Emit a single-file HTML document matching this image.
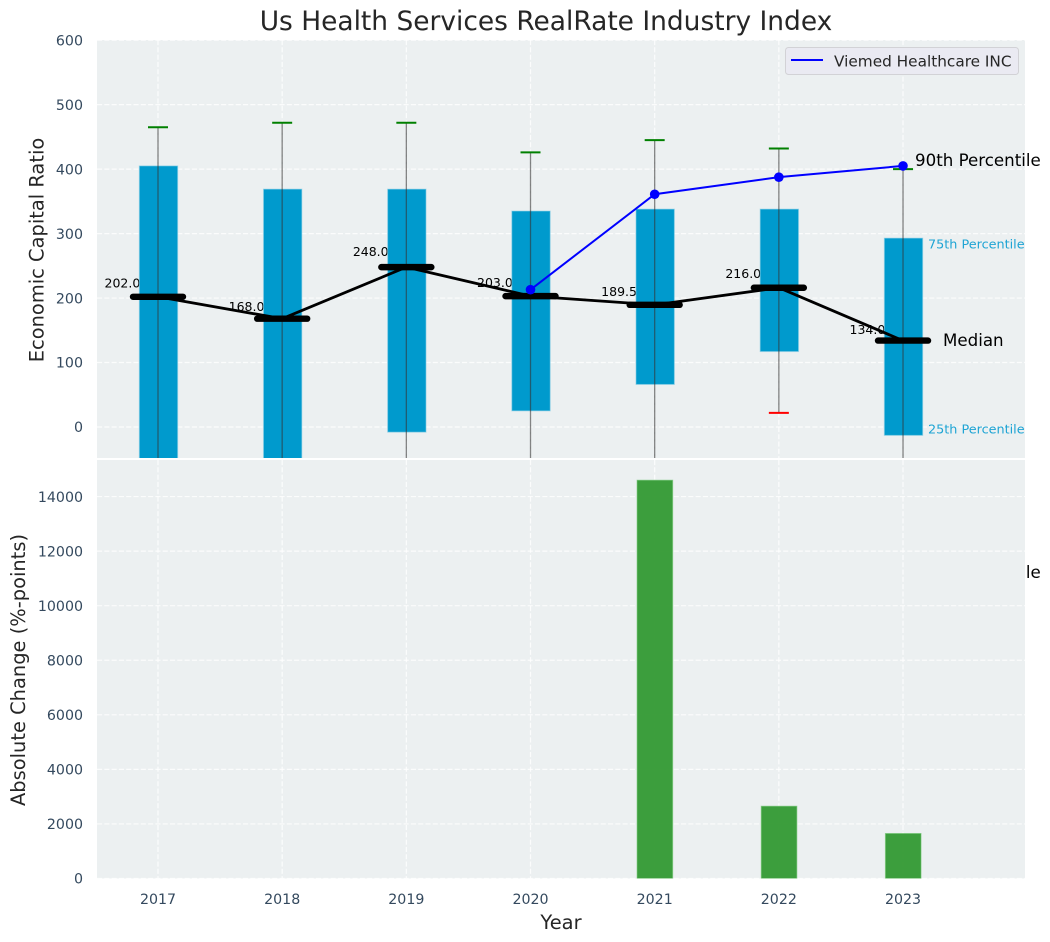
<!DOCTYPE html>
<html lang="en">
<head>
<meta charset="utf-8">
<title>Us Health Services RealRate Industry Index</title>
<style>
html,body{margin:0;padding:0;background:#fff;width:1050px;height:942px;overflow:hidden}
svg{display:block}
text{font-family:"DejaVu Sans","Liberation Sans",sans-serif}
</style>
</head>
<body>
<svg id="chart" xmlns="http://www.w3.org/2000/svg" width="1050" height="942" viewBox="0 0 1050 942">
<defs>
<clipPath id="clip-top"><rect x="97" y="40" width="928" height="418"></rect></clipPath>
<clipPath id="clip-bottom"><rect x="97" y="460" width="928" height="418.5"></rect></clipPath>
</defs>
</svg>
<script>
const years = [2017, 2018, 2019, 2020, 2021, 2022, 2023];
const q75 = [405, 369, 369, 335, 338, 338, 293];
const q25 = [-60, -60, -8, 25, 66, 117, -13];
const whiskerHigh = [465, 472, 472, 426, 445, 432, 400];
const whiskerLow = [-100, -100, -60, -60, -60, 22, -60];
const medians = [202, 168, 248, 203, 189.5, 216, 134];
const companyYears = [2020, 2021, 2022, 2023];
const companyValues = [213, 361, 387.5, 405];
const changeYears = [2021, 2022, 2023];
const changeValues = [14600, 2650, 1650];
const ratioTicks = [0, 100, 200, 300, 400, 500, 600];
const changeTicks = [0, 2000, 4000, 6000, 8000, 10000, 12000, 14000];

const NS = 'http://www.w3.org/2000/svg';
const svg = document.getElementById('chart');
const xScale = v => 158 + (v - 2017) * 124.17;
const yTop = v => 427 - v * 0.6447;
const yBottom = v => 878.5 - v * 0.02728;
const boxHalf = 19.2;
const gridDash = '5.1 2.2';

function mk(tag, attrs, parent, content) {
  const el = document.createElementNS(NS, tag);
  for (const k in attrs) el.setAttribute(k, attrs[k]);
  if (content !== undefined) el.textContent = content;
  (parent || svg).appendChild(el);
  return el;
}

// top panel
const topPanel = mk('g', {});


const topBg = mk('rect', {x: 97, y: 40, width: 928, height: 418, fill: '#ecf0f1'}, topPanel);


const topPlot = mk('g', {'clip-path': 'url(#clip-top)'}, topPanel);



ratioTicks.forEach(t => {
  const g = mk('line', {x1: 97, x2: 1025, y1: yTop(t), y2: yTop(t), stroke: '#fff', 'stroke-width': 1.2, 'stroke-dasharray': gridDash, opacity: 0.8}, topPlot);
  
  
  const l = mk('text', {x: 83, y: yTop(t) + 5.2, 'text-anchor': 'end', 'font-size': 14.2, fill: '#34495e'}, svg, String(t));
  
  
});
years.forEach(y => {
  const g = mk('line', {x1: xScale(y), x2: xScale(y), y1: 40, y2: 458, stroke: '#fff', 'stroke-width': 1.2, 'stroke-dasharray': gridDash, opacity: 0.8}, topPlot);
  
  
});

years.forEach((y, i) => {
  const label = mk('text', {x: xScale(y) - 53.5, y: yTop(medians[i] * 1.06) - 1.3, 'font-size': 12.5, fill: '#000'}, topPlot, medians[i].toFixed(1));
  
  
});

years.forEach((y, i) => {
  const x = xScale(y);
  const box = mk('rect', {x: x - boxHalf + 0.5, y: yTop(q75[i]), width: boxHalf * 2, height: yTop(q25[i]) - yTop(q75[i]), fill: '#009ACD', stroke: '#8fd0e6', 'stroke-opacity': 0.6, 'stroke-width': 1}, topPlot);
  
  
  const w = mk('line', {x1: x, x2: x, y1: yTop(whiskerHigh[i]), y2: yTop(whiskerLow[i]), stroke: '#333', 'stroke-opacity': 0.6, 'stroke-width': 1.3}, topPlot);
  
  
  const capHi = mk('line', {x1: x - 10, x2: x + 10, y1: yTop(whiskerHigh[i]), y2: yTop(whiskerHigh[i]), stroke: '#008000', 'stroke-width': 2}, topPlot);
  
  
  const capLo = mk('line', {x1: x - 10, x2: x + 10, y1: yTop(whiskerLow[i]), y2: yTop(whiskerLow[i]), stroke: '#ff0000', 'stroke-width': 2}, topPlot);
  
  
});

const medianLine = mk('polyline', {points: years.map((y, i) => xScale(y) + ',' + yTop(medians[i])).join(' '), fill: 'none', stroke: '#000', 'stroke-width': 2.8}, topPlot);


years.forEach((y, i) => {
  const m = mk('line', {x1: xScale(y) - 25, x2: xScale(y) + 25, y1: yTop(medians[i]), y2: yTop(medians[i]), stroke: '#000', 'stroke-width': 6.4, 'stroke-linecap': 'round'}, topPlot);
  
  
});

const companyLine = mk('polyline', {points: companyYears.map((y, i) => xScale(y) + ',' + yTop(companyValues[i])).join(' '), fill: 'none', stroke: '#0000ff', 'stroke-width': 2}, topPlot);


companyYears.forEach((y, i) => {
  const p = mk('circle', {cx: xScale(y), cy: yTop(companyValues[i]), r: 4.8, fill: '#0000ff'}, topPlot);
  
  
});

const t75 = mk('text', {x: 928, y: 248.5, 'font-size': 12.8, fill: '#1ea4d4'}, svg, '75th Percentile');


const t25 = mk('text', {x: 928, y: 433.5, 'font-size': 12.8, fill: '#1ea4d4'}, svg, '25th Percentile');


const t90 = mk('text', {x: 915, y: 166, 'font-size': 16.67, fill: '#000'}, svg, '90th Percentile');


const tMed = mk('text', {x: 943, y: 346, 'font-size': 16.67, fill: '#000'}, svg, 'Median');


const t10 = mk('text', {x: 915, y: 578, 'font-size': 16.67, fill: '#000'}, svg, '10th Percentile');



// legend
const legend = mk('g', {});


const legendBox = mk('rect', {x: 785.5, y: 47.5, width: 233, height: 27, rx: 3, fill: '#eaeaf2', stroke: '#d2d2d6', 'stroke-width': 1}, legend);


const legendLine = mk('line', {x1: 791, x2: 823, y1: 60, y2: 60, stroke: '#0000ff', 'stroke-width': 2}, legend);


const legendText = mk('text', {x: 834, y: 66.5, 'font-size': 15.3, fill: '#262626'}, legend, 'Viemed Healthcare INC');



// bottom panel
const bottomPanel = mk('g', {});


const bottomBg = mk('rect', {x: 97, y: 460, width: 928, height: 418.5, fill: '#ecf0f1'}, bottomPanel);


const bottomPlot = mk('g', {'clip-path': 'url(#clip-bottom)'}, bottomPanel);



changeTicks.forEach(t => {
  const g = mk('line', {x1: 97, x2: 1025, y1: yBottom(t), y2: yBottom(t), stroke: '#fff', 'stroke-width': 1.2, 'stroke-dasharray': gridDash, opacity: 0.8}, bottomPlot);
  
  
  const l = mk('text', {x: 83, y: yBottom(t) + 5.2, 'text-anchor': 'end', 'font-size': 14.2, fill: '#34495e'}, svg, String(t));
  
  
});
years.forEach(y => {
  const g = mk('line', {x1: xScale(y), x2: xScale(y), y1: 460, y2: 878, stroke: '#fff', 'stroke-width': 1.2, 'stroke-dasharray': gridDash, opacity: 0.8}, bottomPlot);
  
  
  const l = mk('text', {x: xScale(y), y: 904, 'text-anchor': 'middle', 'font-size': 14.2, fill: '#34495e'}, svg, String(y));
  
  
});
changeYears.forEach((y, i) => {
  const b = mk('rect', {x: xScale(y) - 17.6, y: yBottom(changeValues[i]), width: 35.6, height: yBottom(0) - yBottom(changeValues[i]), fill: '#339933', 'fill-opacity': 0.95, stroke: '#6cc36c', 'stroke-opacity': 0.6, 'stroke-width': 1}, bottomPlot);
  
  
});

// titles
const title = mk('text', {x: 546, y: 30, 'text-anchor': 'middle', 'font-size': 26.45, fill: '#262626'}, svg, 'Us Health Services RealRate Industry Index');


const yLabel1 = mk('text', {x: 0, y: 0, transform: 'translate(43.5 250) rotate(-90)', 'text-anchor': 'middle', 'font-size': 19.44, fill: '#262626'}, svg, 'Economic Capital Ratio');


const yLabel2 = mk('text', {x: 0, y: 0, transform: 'translate(25 670) rotate(-90)', 'text-anchor': 'middle', 'font-size': 19.44, fill: '#262626'}, svg, 'Absolute Change (%-points)');


const xLabel = mk('text', {x: 561, y: 929, 'text-anchor': 'middle', 'font-size': 19.44, fill: '#262626'}, svg, 'Year');


</script>
</body>
</html>
